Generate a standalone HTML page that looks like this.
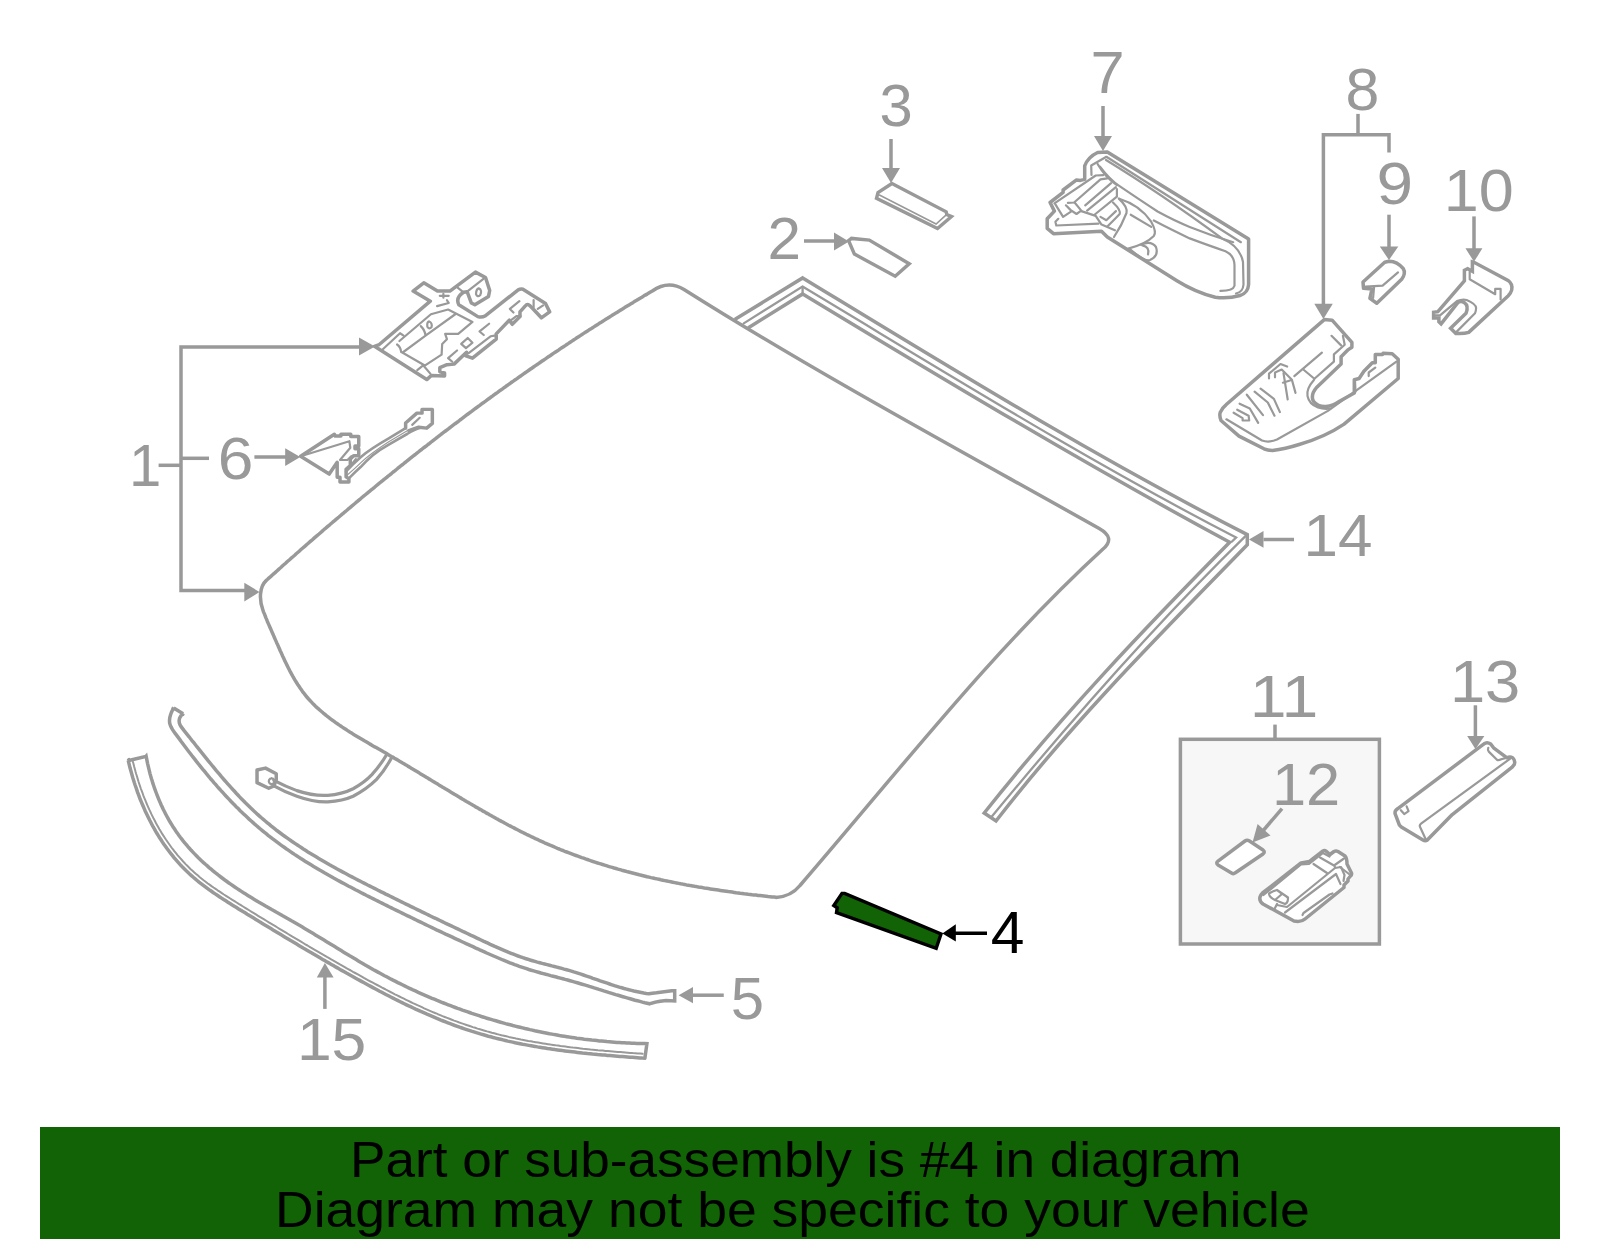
<!DOCTYPE html>
<html><head><meta charset="utf-8"><title>Diagram</title>
<style>
html,body{margin:0;padding:0;background:#fff;width:1600px;height:1249px;overflow:hidden}
svg{position:absolute;left:0;top:0}
svg text{font-family:"Liberation Sans",sans-serif}
.banner{position:absolute;left:40px;top:1127px;width:1520px;height:112px;background:#116306;color:#000;
font-family:"Liberation Sans",sans-serif}
.banner div{position:absolute;white-space:nowrap;font-size:49.1px;line-height:60px;transform-origin:0 0}
</style></head><body>
<svg width="1600" height="1249" viewBox="0 0 1600 1249">
<path d="M684,289.4 C818.5,374.2 961.3,451.0 1099.2,528.5 Q1116,538 1103,549 C991.8,650.9 898.2,771.8 800.0,885.5 Q791,896.5 776,897.5 L776.0,897.3L774.0,897.1L772.0,896.9L770.0,896.7L768.1,896.5L766.1,896.2L764.1,896.0L762.1,895.8L760.1,895.6L758.1,895.4L756.1,895.1L754.1,894.9L752.1,894.7L750.2,894.4L748.2,894.2L746.2,893.9L744.2,893.7L742.2,893.4L740.2,893.2L738.2,892.9L736.2,892.7L734.2,892.4L732.2,892.1L730.2,891.8L728.3,891.6L726.3,891.3L724.3,891.0L722.3,890.7L720.3,890.4L718.3,890.1L716.3,889.8L714.3,889.5L712.3,889.2L710.3,888.9L708.4,888.6L706.4,888.3L704.4,888.0L702.4,887.6L700.4,887.3L698.4,887.0L696.4,886.6L694.5,886.3L692.5,885.9L690.5,885.6L688.5,885.2L686.5,884.9L684.5,884.5L682.6,884.1L680.6,883.8L678.6,883.4L676.6,883.0L674.7,882.6L672.7,882.2L670.7,881.8L668.7,881.4L666.8,881.0L664.8,880.6L662.8,880.2L660.9,879.8L658.9,879.3L656.9,878.9L655.0,878.5L653.0,878.0L651.0,877.6L649.1,877.1L647.1,876.7L645.2,876.2L643.2,875.7L641.3,875.2L639.3,874.8L637.4,874.3L635.4,873.8L633.5,873.3L631.5,872.8L629.6,872.3L627.6,871.8L625.7,871.2L623.8,870.7L621.8,870.2L619.9,869.6L618.0,869.1L616.0,868.5L614.1,868.0L612.2,867.4L610.2,866.9L608.3,866.3L606.4,865.7L604.5,865.1L602.6,864.5L600.7,863.9L598.8,863.3L596.8,862.7L594.9,862.1L593.0,861.5L591.1,860.8L589.2,860.2L587.3,859.5L585.5,858.9L583.6,858.2L581.7,857.6L579.8,856.9L577.9,856.2L576.0,855.5L574.2,854.8L572.3,854.1L570.4,853.4L568.5,852.7L566.7,852.0L564.8,851.3L563.0,850.5L561.1,849.8L559.2,849.0L557.4,848.3L555.5,847.5L553.7,846.7L551.9,845.9L550.0,845.2L548.2,844.4L546.4,843.6L544.5,842.8L542.7,841.9L540.9,841.1L539.1,840.3L537.3,839.4L535.4,838.6L533.6,837.7L531.8,836.9L530.0,836.0L528.2,835.1L526.4,834.3L524.6,833.4L522.8,832.5L521.0,831.6L519.3,830.7L517.5,829.8L515.7,828.9L513.9,827.9L512.1,827.0L510.4,826.1L508.6,825.2L506.8,824.2L505.0,823.3L503.3,822.3L501.5,821.4L499.7,820.4L498.0,819.4L496.2,818.5L494.5,817.5L492.7,816.5L491.0,815.5L489.2,814.6L487.5,813.6L485.7,812.6L484.0,811.6L482.2,810.6L480.5,809.6L478.7,808.6L477.0,807.6L475.2,806.6L473.5,805.6L471.8,804.5L470.0,803.5L468.3,802.5L466.5,801.5L464.8,800.5L463.1,799.4L461.4,798.4L459.6,797.4L457.9,796.3L456.2,795.3L454.4,794.3L452.7,793.2L451.0,792.2L449.2,791.1L447.5,790.1L445.8,789.1L444.1,788.0L442.3,787.0L440.6,785.9L438.9,784.9L437.2,783.8L435.4,782.8L433.7,781.7L432.0,780.7L430.3,779.6L428.5,778.6L426.8,777.6L425.1,776.5L423.4,775.5L421.6,774.4L419.9,773.4L418.2,772.3L416.5,771.3L414.7,770.2L413.0,769.2L411.3,768.2L409.6,767.1L407.8,766.1L406.1,765.1L404.4,764.0L402.6,763.0L400.9,762.0L399.2,761.0L397.5,759.9L395.7,758.9L394.0,757.9L392.2,756.9L390.5,755.9L388.8,754.9L387.0,753.8L385.3,752.8L383.5,751.8L381.8,750.8L380.1,749.8L378.3,748.8L376.6,747.8L374.8,746.9L373.1,745.9L371.4,744.9L369.6,743.9L367.9,742.8L366.2,741.8L364.4,740.8L362.7,739.8L361.0,738.8L359.3,737.8L357.5,736.7L355.8,735.7L354.1,734.7L352.4,733.6L350.7,732.6L349.0,731.5L347.3,730.4L345.7,729.3L344.0,728.2L342.3,727.1L340.7,726.0L339.0,724.9L337.4,723.8L335.7,722.6L334.1,721.4L332.5,720.3L330.9,719.1L329.3,717.8L327.7,716.6L326.1,715.4L324.6,714.1L323.0,712.8L321.5,711.5L320.0,710.2L318.5,708.9L317.0,707.6L315.5,706.2L314.1,704.8L312.7,703.4L311.3,701.9L310.0,700.5L308.6,699.0L307.3,697.5L306.0,696.0L304.8,694.4L303.6,692.8L302.4,691.3L301.2,689.6L300.1,688.0L299.0,686.3L297.9,684.7L296.8,683.0L295.7,681.3L294.7,679.6L293.7,677.8L292.7,676.1L291.7,674.3L290.8,672.6L289.8,670.8L288.9,669.0L288.0,667.2L287.1,665.4L286.2,663.5L285.3,661.7L284.4,659.9L283.6,658.0L282.7,656.2L281.9,654.4L281.1,652.5L280.2,650.7L279.4,648.8L278.6,647.0L277.8,645.1L276.9,643.2L276.1,641.4L275.3,639.6L274.5,637.7L273.7,635.9L272.9,634.0L272.1,632.2L271.3,630.4L270.5,628.5L269.7,626.7L268.9,624.9L268.1,623.1L267.3,621.2L266.6,619.4L265.8,617.6L265.1,615.7L264.4,613.9L263.6,612.1L263.0,610.3 C259.0,600.0 259.4,586.7 266.1,580.6 L267.6,579.3L269.1,577.9L270.6,576.6L272.1,575.2L273.6,573.9L275.1,572.6L276.6,571.2L278.1,569.9L279.6,568.5L281.1,567.2L282.6,565.8L284.1,564.5L285.6,563.2L287.1,561.8L288.6,560.5L290.1,559.2L291.6,557.8L293.2,556.5L294.7,555.2L296.2,553.8L297.7,552.5L299.2,551.2L300.7,549.8L302.2,548.5L303.8,547.2L305.3,545.9L306.8,544.5L308.3,543.2L309.8,541.9L311.3,540.6L312.9,539.3L314.4,537.9L315.9,536.6L317.4,535.3L319.0,534.0L320.5,532.7L322.0,531.4L323.5,530.0L325.1,528.7L326.6,527.4L328.1,526.1L329.7,524.8L331.2,523.5L332.7,522.2L334.3,520.9L335.8,519.6L337.3,518.3L338.9,517.0L340.4,515.7L341.9,514.4L343.5,513.1L345.0,511.8L346.6,510.5L348.1,509.2L349.7,507.9L351.2,506.6L352.7,505.3L354.3,504.0L355.8,502.7L357.4,501.4L358.9,500.1L360.5,498.8L362.0,497.5L363.6,496.2L365.1,495.0L366.7,493.7L368.2,492.4L369.8,491.1L371.3,489.8L372.9,488.6L374.5,487.3L376.0,486.0L377.6,484.7L379.1,483.4L380.7,482.2L382.3,480.9L383.8,479.6L385.4,478.4L387.0,477.1L388.5,475.8L390.1,474.6L391.7,473.3L393.2,472.0L394.8,470.8L396.4,469.5L397.9,468.2L399.5,467.0L401.1,465.7L402.7,464.5L404.2,463.2L405.8,462.0L407.4,460.7L409.0,459.4L410.5,458.2L412.1,456.9L413.7,455.7L415.3,454.5L416.9,453.2L418.4,452.0L420.0,450.7L421.6,449.5L423.2,448.2L424.8,447.0L426.4,445.8L428.0,444.5L429.6,443.3L431.2,442.0L432.7,440.8L434.3,439.6L435.9,438.4L437.5,437.1L439.1,435.9L440.7,434.7L442.3,433.4L443.9,432.2L445.5,431.0L447.1,429.8L448.7,428.6L450.3,427.3L451.9,426.1L453.5,424.9L455.1,423.7L456.8,422.5L458.4,421.3L460.0,420.0L461.6,418.8L463.2,417.6L464.8,416.4L466.4,415.2L468.0,414.0L469.6,412.8L471.3,411.6L472.9,410.4L474.5,409.2L476.1,408.0L477.7,406.8L479.4,405.6L481.0,404.4L482.6,403.2L484.2,402.1L485.9,400.9L487.5,399.7L489.1,398.5L490.7,397.3L492.4,396.1L494.0,394.9L495.6,393.8L497.3,392.6L498.9,391.4L500.5,390.2L502.2,389.1L503.8,387.9L505.5,386.7L507.1,385.5L508.7,384.4L510.4,383.2L512.0,382.0L513.7,380.9L515.3,379.7L517.0,378.6L518.6,377.4L520.3,376.2L521.9,375.1L523.6,373.9L525.2,372.8L526.9,371.6L528.5,370.5L530.2,369.3L531.8,368.2L533.5,367.0L535.1,365.9L536.8,364.8L538.5,363.6L540.1,362.5L541.8,361.3L543.4,360.2L545.1,359.1L546.8,357.9L548.4,356.8L550.1,355.7L551.8,354.5L553.4,353.4L555.1,352.3L556.8,351.2L558.5,350.1L560.1,348.9L561.8,347.8L563.5,346.7L565.2,345.6L566.8,344.5L568.5,343.4L570.2,342.2L571.9,341.1L573.6,340.0L575.3,338.9L576.9,337.8L578.6,336.7L580.3,335.6L582.0,334.5L583.7,333.4L585.4,332.3L587.1,331.2L588.8,330.1L590.5,329.1L592.2,328.0L593.9,326.9L595.6,325.8L597.3,324.7L599.0,323.6L600.7,322.6L602.4,321.5L604.1,320.4L605.8,319.3L607.5,318.3L609.2,317.2L610.9,316.1L612.6,315.0L614.3,314.0L616.0,312.9L617.7,311.9L619.5,310.8L621.2,309.7L622.9,308.7L624.6,307.6L626.3,306.6L628.1,305.5L629.8,304.5L631.5,303.4L633.2,302.4L634.9,301.3L636.7,300.3L638.4,299.2L640.1,298.2L641.9,297.2L643.6,296.1L645.3,295.1L647.1,294.1L648.8,293.0L650.5,292.0L652.3,291.0 Q668,279.8 684,289.4Z" stroke="#999999" stroke-width="3.5" fill="none" stroke-linejoin="round" stroke-linecap="round"/>
<path d="M735.9,318.8 L802.7,277.9 C949.0,366.9 1094.4,456.8 1247.3,534.6 L1247.3,544.8 C1160.8,633.6 1072.1,722.5 996.0,821.0 L984.2,813 C1059.7,717.7 1144.1,628.8 1229.7,542.3 C1085.1,464.3 943.4,379.2 802.7,293.9 L749.2,327.3" stroke="#999999" stroke-width="3.5" fill="none" stroke-linejoin="miter" stroke-linecap="round"/>
<path d="M743.7,323.4 L802.5,286.6 C946.1,372.7 1087.7,461.1 1236.1,537.5 L1232,541.5" stroke="#999999" stroke-width="2.3" fill="none" stroke-linejoin="miter" stroke-linecap="round"/>
<path d="M1245.7,535.9 C1155.1,624.4 1071.6,719.8 991.0,817.5" stroke="#999999" stroke-width="2.3" fill="none" stroke-linejoin="round" stroke-linecap="round"/>
<path d="M802.6,287 L802.6,293.5" stroke="#999999" stroke-width="2.3" fill="none" stroke-linejoin="round" stroke-linecap="round"/>
<path d="M173.7,707.9 L183.1,713.7 L183.2,713.5L180.9,715.8L179.6,718.2L179.1,720.5L179.3,722.8L180.1,724.9L181.3,726.9L182.8,728.9L184.3,730.9L185.9,732.8L187.5,734.8L189.1,736.8L190.6,738.8L192.2,740.8L193.8,742.7L195.4,744.7L196.9,746.7L198.5,748.7L200.1,750.7L201.7,752.7L203.3,754.6L204.9,756.6L206.5,758.6L208.1,760.6L209.7,762.5L211.3,764.5L212.9,766.5L214.5,768.4L216.1,770.4L217.8,772.3L219.4,774.2L221.0,776.2L222.7,778.1L224.3,780.0L226.0,781.9L227.7,783.8L229.4,785.7L231.1,787.6L232.8,789.5L234.5,791.3L236.2,793.2L237.9,795.0L239.6,796.9L241.4,798.7L243.2,800.5L244.9,802.3L246.7,804.1L248.5,805.8L250.3,807.6L252.1,809.3L253.9,811.0L255.8,812.7L257.6,814.4L259.5,816.1L261.4,817.8L263.3,819.4L265.2,821.0L267.1,822.6L269.1,824.2L271.0,825.8L273.0,827.4L274.9,828.9L276.9,830.5L278.9,832.0L280.9,833.5L282.9,835.0L285.0,836.5L287.0,837.9L289.1,839.4L291.1,840.8L293.2,842.2L295.3,843.6L297.4,845.0L299.5,846.4L301.6,847.8L303.7,849.2L305.8,850.5L307.9,851.9L310.1,853.2L312.2,854.5L314.4,855.8L316.5,857.1L318.7,858.4L320.9,859.7L323.1,861.0L325.3,862.3L327.4,863.5L329.6,864.8L331.8,866.0L334.1,867.2L336.3,868.5L338.5,869.7L340.7,870.9L342.9,872.1L345.2,873.3L347.4,874.5L349.6,875.7L351.9,876.9L354.1,878.0L356.4,879.2L358.6,880.4L360.9,881.5L363.1,882.7L365.4,883.8L367.6,885.0L369.9,886.1L372.2,887.3L374.4,888.4L376.7,889.5L378.9,890.7L381.2,891.8L383.5,892.9L385.7,894.1L388.0,895.2L390.2,896.3L392.5,897.4L394.7,898.5L397.0,899.6L399.3,900.8L401.5,901.9L403.8,903.0L406.0,904.1L408.3,905.2L410.6,906.3L412.8,907.4L415.1,908.5L417.3,909.6L419.6,910.7L421.9,911.8L424.1,912.9L426.4,914.0L428.7,915.1L430.9,916.2L433.2,917.3L435.5,918.3L437.7,919.4L440.0,920.5L442.3,921.6L444.5,922.7L446.8,923.8L449.1,924.9L451.3,925.9L453.6,927.0L455.9,928.1L458.2,929.2L460.4,930.3L462.7,931.4L465.0,932.4L467.3,933.5L469.6,934.6L471.8,935.7L474.1,936.7L476.4,937.8L478.7,938.9L481.0,940.0L483.3,941.1L485.6,942.1L487.9,943.2L490.2,944.3L492.5,945.3L494.8,946.4L497.1,947.4L499.4,948.4L501.7,949.4L504.0,950.4L506.4,951.4L508.7,952.3L511.1,953.3L513.4,954.2L515.8,955.1L518.1,956.0L520.5,956.8L522.9,957.7L525.3,958.5L527.7,959.2L530.1,960.0L532.5,960.7L534.9,961.4L537.3,962.1L539.8,962.7L542.2,963.4L544.6,964.0L547.1,964.6L549.5,965.2L551.9,965.9L554.4,966.5L556.8,967.1L559.3,967.8L561.7,968.4L564.1,969.1L566.6,969.7L569.0,970.4L571.4,971.1L573.8,971.9L576.2,972.6L578.6,973.4L581.0,974.2L583.4,975.0L585.8,975.8L588.2,976.6L590.6,977.4L592.9,978.3L595.3,979.1L597.7,979.9L600.1,980.8L602.5,981.6L604.9,982.4L607.3,983.2L609.6,984.0L612.0,984.8L614.4,985.6L616.8,986.3L619.3,987.1L621.7,987.8L624.1,988.5L626.5,989.1L629.0,989.8L631.4,990.4L633.9,991.0L636.3,991.5L638.8,992.0L641.3,992.5L643.8,993.0L646.3,993.4L648.8,993.7 Q652,993.2 656.5,992.8 L671.8,990.8 L674.7,990.8 L674.7,1000.9 L666.1,1000.4 Q653,1002 649.7,1003.8 L649.7,1003.8L647.2,1003.2L644.8,1002.7L642.4,1002.1L639.9,1001.4L637.5,1000.8L635.1,1000.2L632.6,999.5L630.2,998.8L627.8,998.1L625.4,997.4L623.0,996.7L620.6,996.0L618.2,995.3L615.7,994.6L613.3,993.8L610.9,993.1L608.5,992.4L606.1,991.6L603.7,990.9L601.4,990.1L599.0,989.4L596.6,988.6L594.2,987.9L591.8,987.1L589.4,986.4L587.0,985.6L584.5,984.9L582.1,984.2L579.7,983.5L577.3,982.8L574.9,982.1L572.5,981.4L570.1,980.7L567.6,980.0L565.2,979.4L562.8,978.7L560.4,978.1L557.9,977.5L555.5,976.8L553.1,976.2L550.6,975.6L548.2,974.9L545.8,974.3L543.3,973.6L540.9,973.0L538.5,972.3L536.1,971.6L533.7,970.9L531.2,970.2L528.8,969.5L526.5,968.7L524.1,967.9L521.7,967.1L519.3,966.3L517.0,965.4L514.6,964.6L512.3,963.7L509.9,962.8L507.6,961.8L505.2,960.9L502.9,960.0L500.6,959.0L498.3,958.0L496.0,957.0L493.6,956.0L491.3,955.0L489.0,954.0L486.7,953.0L484.4,951.9L482.1,950.9L479.8,949.9L477.6,948.8L475.3,947.8L473.0,946.7L470.7,945.7L468.4,944.6L466.1,943.6L463.8,942.5L461.6,941.5L459.3,940.4L457.0,939.4L454.7,938.3L452.4,937.2L450.2,936.2L447.9,935.1L445.6,934.1L443.3,933.0L441.1,931.9L438.8,930.8L436.5,929.8L434.3,928.7L432.0,927.6L429.7,926.5L427.5,925.5L425.2,924.4L423.0,923.3L420.7,922.2L418.4,921.1L416.2,920.0L413.9,918.9L411.7,917.8L409.4,916.7L407.1,915.6L404.9,914.5L402.6,913.4L400.4,912.3L398.1,911.2L395.9,910.1L393.6,909.0L391.4,907.9L389.1,906.8L386.9,905.6L384.6,904.5L382.4,903.4L380.1,902.3L377.9,901.1L375.6,900.0L373.4,898.9L371.1,897.7L368.9,896.6L366.6,895.5L364.4,894.3L362.1,893.2L359.9,892.0L357.6,890.8L355.4,889.7L353.2,888.5L350.9,887.3L348.7,886.2L346.5,885.0L344.3,883.8L342.0,882.6L339.8,881.4L337.6,880.2L335.4,879.0L333.2,877.8L331.0,876.5L328.8,875.3L326.6,874.0L324.4,872.8L322.3,871.5L320.1,870.3L317.9,869.0L315.8,867.7L313.6,866.4L311.4,865.1L309.3,863.8L307.2,862.5L305.0,861.2L302.9,859.8L300.8,858.5L298.7,857.1L296.6,855.7L294.5,854.4L292.4,853.0L290.4,851.6L288.3,850.1L286.2,848.7L284.2,847.3L282.1,845.8L280.1,844.4L278.1,842.9L276.1,841.4L274.1,839.9L272.1,838.4L270.1,836.8L268.1,835.3L266.2,833.7L264.2,832.2L262.3,830.6L260.4,829.0L258.5,827.4L256.6,825.7L254.7,824.1L252.8,822.4L250.9,820.7L249.1,819.1L247.2,817.3L245.4,815.6L243.6,813.9L241.8,812.2L239.9,810.4L238.2,808.6L236.4,806.9L234.6,805.1L232.8,803.3L231.1,801.5L229.4,799.6L227.6,797.8L225.9,796.0L224.2,794.1L222.5,792.2L220.8,790.4L219.1,788.5L217.4,786.6L215.8,784.7L214.1,782.8L212.5,780.9L210.8,779.0L209.2,777.0L207.6,775.1L206.0,773.2L204.4,771.2L202.8,769.3L201.2,767.3L199.6,765.3L198.0,763.4L196.4,761.4L194.9,759.4L193.3,757.4L191.8,755.5L190.3,753.5L188.7,751.5L187.2,749.5L185.7,747.5L184.2,745.5L182.7,743.5L181.2,741.5L179.7,739.4L178.2,737.4L176.7,735.4L175.2,733.4L173.8,731.4L172.4,729.4L171.2,727.2L170.2,725.0L169.6,722.7L169.5,720.2L169.8,717.6L170.5,715.0L171.4,712.4L172.5,710.0L173.8,707.8Z" stroke="#999999" stroke-width="3.5" fill="none" stroke-linejoin="miter" stroke-linecap="round"/>
<path d="M127.8,760.7 L145.8,756.4 L146.1,756.1L146.6,758.6L147.1,761.1L147.6,763.6L148.2,766.1L148.8,768.6L149.4,771.1L150.0,773.6L150.7,776.1L151.4,778.5L152.2,781.0L152.9,783.4L153.7,785.8L154.5,788.2L155.4,790.6L156.3,793.0L157.2,795.4L158.1,797.7L159.1,800.1L160.1,802.4L161.1,804.7L162.2,807.0L163.2,809.3L164.4,811.5L165.5,813.7L166.7,816.0L167.9,818.2L169.1,820.3L170.4,822.5L171.7,824.6L173.0,826.7L174.4,828.8L175.8,830.9L177.2,832.9L178.6,835.0L180.1,837.0L181.6,838.9L183.1,840.9L184.7,842.8L186.3,844.7L187.9,846.6L189.6,848.5L191.2,850.3L192.9,852.1L194.6,853.9L196.4,855.7L198.1,857.5L199.9,859.2L201.7,860.9L203.5,862.6L205.4,864.3L207.3,865.9L209.1,867.6L211.1,869.2L213.0,870.8L214.9,872.4L216.9,873.9L218.8,875.5L220.8,877.0L222.8,878.5L224.8,880.0L226.9,881.5L228.9,883.0L231.0,884.4L233.0,885.8L235.1,887.2L237.2,888.6L239.3,890.0L241.4,891.4L243.5,892.8L245.7,894.1L247.8,895.4L250.0,896.8L252.1,898.1L254.3,899.4L256.4,900.7L258.6,902.0L260.8,903.2L263.0,904.5L265.1,905.8L267.3,907.0L269.5,908.3L271.7,909.6L273.9,910.8L276.1,912.1L278.3,913.3L280.5,914.5L282.7,915.8L284.9,917.0L287.1,918.3L289.3,919.5L291.5,920.8L293.7,922.0L295.9,923.3L298.1,924.6L300.3,925.8L302.4,927.1L304.6,928.4L306.8,929.7L308.9,931.0L311.1,932.3L313.3,933.6L315.4,934.9L317.6,936.2L319.7,937.5L321.9,938.8L324.0,940.1L326.2,941.4L328.3,942.7L330.4,944.0L332.6,945.3L334.7,946.6L336.9,947.9L339.0,949.2L341.2,950.6L343.3,951.9L345.4,953.2L347.6,954.5L349.7,955.8L351.9,957.0L354.0,958.3L356.2,959.6L358.3,960.9L360.5,962.2L362.7,963.4L364.8,964.7L367.0,965.9L369.2,967.2L371.3,968.4L373.5,969.7L375.7,970.9L377.9,972.1L380.1,973.3L382.3,974.5L384.5,975.7L386.7,976.8L388.9,978.0L391.1,979.2L393.4,980.3L395.6,981.4L397.8,982.6L400.1,983.7L402.3,984.8L404.6,985.9L406.8,987.0L409.1,988.1L411.4,989.1L413.6,990.2L415.9,991.2L418.2,992.3L420.5,993.3L422.8,994.3L425.1,995.3L427.4,996.3L429.7,997.3L432.0,998.3L434.3,999.2L436.6,1000.2L438.9,1001.1L441.2,1002.1L443.6,1003.0L445.9,1003.9L448.2,1004.8L450.6,1005.7L452.9,1006.6L455.3,1007.5L457.6,1008.4L460.0,1009.2L462.4,1010.1L464.7,1010.9L467.1,1011.7L469.5,1012.5L471.8,1013.4L474.2,1014.1L476.6,1014.9L479.0,1015.7L481.4,1016.5L483.8,1017.2L486.2,1018.0L488.6,1018.7L491.0,1019.4L493.4,1020.1L495.8,1020.8L498.2,1021.5L500.6,1022.2L503.0,1022.9L505.5,1023.6L507.9,1024.2L510.3,1024.8L512.8,1025.5L515.2,1026.1L517.6,1026.7L520.1,1027.3L522.5,1027.9L525.0,1028.5L527.4,1029.0L529.9,1029.6L532.3,1030.1L534.8,1030.7L537.2,1031.2L539.7,1031.7L542.1,1032.2L544.6,1032.7L547.1,1033.2L549.5,1033.7L552.0,1034.1L554.5,1034.6L556.9,1035.0L559.4,1035.5L561.9,1035.9L564.4,1036.3L566.9,1036.7L569.3,1037.1L571.8,1037.4L574.3,1037.8L576.8,1038.2L579.3,1038.5L581.8,1038.8L584.3,1039.2L586.8,1039.5L589.3,1039.8L591.8,1040.1L594.3,1040.3L596.8,1040.6L599.3,1040.9L601.8,1041.1L604.3,1041.3L606.8,1041.6L609.3,1041.8L611.8,1042.0L614.3,1042.2L616.8,1042.4L619.3,1042.5L621.8,1042.7L624.3,1042.8L626.8,1043.0L629.3,1043.1L631.9,1043.2L634.4,1043.3L636.9,1043.4L639.4,1043.5L641.9,1043.6L644.4,1043.6L646.9,1043.7 L644.9,1058.1 L644.8,1058.2L642.3,1058.1L639.9,1057.9L637.4,1057.7L634.9,1057.5L632.4,1057.3L629.9,1057.2L627.5,1057.0L625.0,1056.8L622.5,1056.6L620.0,1056.4L617.5,1056.2L615.0,1056.0L612.5,1055.8L610.0,1055.6L607.5,1055.4L605.0,1055.1L602.5,1054.9L600.0,1054.7L597.5,1054.5L595.0,1054.2L592.5,1054.0L590.0,1053.7L587.4,1053.5L584.9,1053.2L582.4,1053.0L579.9,1052.7L577.4,1052.4L574.9,1052.1L572.4,1051.8L569.9,1051.5L567.4,1051.2L564.9,1050.9L562.4,1050.6L559.9,1050.2L557.4,1049.9L554.9,1049.6L552.4,1049.2L549.9,1048.8L547.4,1048.5L544.9,1048.1L542.4,1047.7L539.9,1047.3L537.4,1046.9L535.0,1046.4L532.5,1046.0L530.0,1045.6L527.5,1045.1L525.0,1044.6L522.6,1044.2L520.1,1043.7L517.6,1043.2L515.2,1042.7L512.7,1042.1L510.2,1041.6L507.8,1041.1L505.3,1040.5L502.9,1039.9L500.5,1039.3L498.0,1038.7L495.6,1038.1L493.2,1037.5L490.7,1036.8L488.3,1036.2L485.9,1035.5L483.5,1034.8L481.1,1034.1L478.7,1033.4L476.3,1032.7L473.9,1031.9L471.5,1031.2L469.1,1030.4L466.7,1029.6L464.4,1028.8L462.0,1028.0L459.6,1027.2L457.3,1026.3L454.9,1025.5L452.6,1024.6L450.2,1023.7L447.9,1022.8L445.6,1021.9L443.2,1021.0L440.9,1020.1L438.6,1019.1L436.3,1018.2L434.0,1017.2L431.7,1016.2L429.4,1015.2L427.0,1014.2L424.8,1013.2L422.5,1012.2L420.2,1011.2L417.9,1010.1L415.6,1009.1L413.3,1008.0L411.1,1006.9L408.8,1005.9L406.5,1004.8L404.3,1003.7L402.0,1002.6L399.7,1001.5L397.5,1000.4L395.2,999.2L393.0,998.1L390.8,997.0L388.5,995.8L386.3,994.7L384.0,993.5L381.8,992.3L379.6,991.2L377.4,990.0L375.1,988.8L372.9,987.6L370.7,986.4L368.5,985.2L366.3,984.0L364.1,982.8L361.9,981.6L359.7,980.4L357.5,979.2L355.3,978.0L353.1,976.7L350.9,975.5L348.7,974.3L346.5,973.1L344.3,971.8L342.1,970.6L340.0,969.4L337.8,968.1L335.6,966.9L333.4,965.6L331.3,964.4L329.1,963.1L326.9,961.9L324.7,960.6L322.6,959.4L320.4,958.1L318.2,956.8L316.1,955.6L313.9,954.3L311.8,953.0L309.6,951.8L307.4,950.5L305.3,949.2L303.1,948.0L301.0,946.7L298.8,945.4L296.7,944.1L294.5,942.8L292.4,941.5L290.2,940.3L288.1,939.0L285.9,937.7L283.8,936.4L281.6,935.1L279.5,933.8L277.3,932.5L275.2,931.2L273.0,929.9L270.9,928.6L268.7,927.3L266.6,926.0L264.4,924.7L262.3,923.4L260.1,922.1L258.0,920.7L255.8,919.4L253.7,918.1L251.5,916.8L249.4,915.5L247.2,914.2L245.1,912.8L242.9,911.5L240.8,910.2L238.6,908.9L236.5,907.5L234.3,906.2L232.2,904.9L230.0,903.5L227.9,902.2L225.8,900.8L223.6,899.5L221.5,898.1L219.4,896.7L217.3,895.3L215.2,893.9L213.1,892.5L211.1,891.0L209.0,889.6L207.0,888.1L205.0,886.6L203.0,885.1L201.0,883.6L199.0,882.1L197.1,880.5L195.2,878.9L193.3,877.3L191.4,875.6L189.6,874.0L187.8,872.3L186.0,870.6L184.2,868.8L182.5,867.1L180.8,865.3L179.1,863.4L177.5,861.6L175.8,859.7L174.2,857.8L172.7,855.9L171.1,854.0L169.6,852.0L168.1,850.0L166.6,848.0L165.2,846.0L163.7,844.0L162.3,841.9L161.0,839.8L159.6,837.7L158.3,835.6L157.0,833.5L155.7,831.3L154.5,829.1L153.2,827.0L152.0,824.7L150.9,822.5L149.7,820.3L148.6,818.0L147.5,815.8L146.4,813.5L145.3,811.2L144.3,808.9L143.3,806.5L142.3,804.2L141.3,801.8L140.3,799.5L139.4,797.1L138.5,794.7L137.6,792.3L136.8,789.9L136.0,787.5L135.1,785.0L134.3,782.6L133.6,780.2L132.8,777.7L132.1,775.2L131.4,772.8L130.7,770.3L130.0,767.8L129.4,765.3L128.8,762.8L128.2,760.4Z" stroke="#999999" stroke-width="3.5" fill="none" stroke-linejoin="miter" stroke-linecap="round"/>
<path d="M642.6,1053.8L640.2,1053.6L637.7,1053.4L635.2,1053.2L632.7,1053.1L630.3,1052.9L627.8,1052.7L625.3,1052.5L622.8,1052.3L620.3,1052.1L617.8,1051.9L615.3,1051.7L612.8,1051.5L610.3,1051.3L607.9,1051.1L605.4,1050.9L602.9,1050.6L600.4,1050.4L597.9,1050.2L595.4,1049.9L592.9,1049.7L590.4,1049.5L587.9,1049.2L585.4,1048.9L582.9,1048.7L580.4,1048.4L577.9,1048.1L575.4,1047.8L572.9,1047.6L570.4,1047.3L567.9,1046.9L565.4,1046.6L562.9,1046.3L560.5,1046.0L558.0,1045.6L555.5,1045.3L553.0,1044.9L550.5,1044.6L548.0,1044.2L545.6,1043.8L543.1,1043.4L540.6,1043.0L538.1,1042.6L535.7,1042.2L533.2,1041.8L530.8,1041.3L528.3,1040.9L525.8,1040.4L523.4,1039.9L520.9,1039.5L518.5,1039.0L516.0,1038.5L513.6,1037.9L511.2,1037.4L508.7,1036.9L506.3,1036.3L503.9,1035.7L501.5,1035.2L499.1,1034.6L496.7,1034.0L494.2,1033.3L491.8,1032.7L489.4,1032.0L487.1,1031.4L484.7,1030.7L482.3,1030.0L479.9,1029.3L477.5,1028.6L475.2,1027.8L472.8,1027.1L470.5,1026.3L468.1,1025.5L465.8,1024.7L463.4,1023.9L461.1,1023.1L458.7,1022.3L456.4,1021.4L454.1,1020.6L451.8,1019.7L449.5,1018.8L447.1,1017.9L444.8,1017.0L442.5,1016.1L440.2,1015.1L437.9,1014.2L435.6,1013.2L433.3,1012.3L431.1,1011.3L428.8,1010.3L426.5,1009.3L424.2,1008.3L421.9,1007.2L419.7,1006.2L417.4,1005.2L415.2,1004.1L412.9,1003.1L410.6,1002.0L408.4,1000.9L406.1,999.8L403.9,998.7L401.6,997.6L399.4,996.5L397.2,995.4L394.9,994.3L392.7,993.1L390.5,992.0L388.3,990.8L386.0,989.7L383.8,988.5L381.6,987.4L379.4,986.2L377.2,985.0L375.0,983.8L372.8,982.6L370.5,981.5L368.3,980.3L366.1,979.1L363.9,977.9L361.8,976.6L359.6,975.4L357.4,974.2L355.2,973.0L353.0,971.8L350.8,970.5L348.6,969.3L346.4,968.1L344.3,966.8L342.1,965.6L339.9,964.4L337.7,963.1L335.6,961.9L333.4,960.6L331.2,959.4L329.1,958.1L326.9,956.9L324.7,955.6L322.6,954.4L320.4,953.1L318.3,951.9L316.1,950.6L313.9,949.3L311.8,948.1L309.6,946.8L307.5,945.5L305.3,944.3L303.2,943.0L301.0,941.7L298.9,940.4L296.7,939.1L294.6,937.9L292.4,936.6L290.3,935.3L288.1,934.0L286.0,932.7L283.8,931.4L281.7,930.1L279.5,928.8L277.4,927.5L275.3,926.2L273.1,924.9L271.0,923.6L268.8,922.3L266.7,921.0L264.5,919.7L262.4,918.4L260.2,917.1L258.1,915.8L255.9,914.4L253.8,913.1L251.6,911.8L249.5,910.5L247.3,909.2L245.2,907.8L243.0,906.5L240.9,905.2L238.7,903.9L236.6,902.5L234.5,901.2L232.3,899.9L230.2,898.5L228.1,897.2L226.0,895.8L223.9,894.5L221.8,893.1L219.7,891.7L217.6,890.3L215.6,888.9L213.5,887.5L211.5,886.1L209.5,884.6L207.5,883.2L205.6,881.7L203.6,880.2L201.7,878.7L199.8,877.2L198.0,875.6L196.1,874.0L194.3,872.4L192.5,870.8L190.7,869.2L189.0,867.5L187.3,865.8L185.6,864.1L183.9,862.3L182.3,860.5L180.7,858.7L179.1,856.9L177.5,855.1L176.0,853.2L174.5,851.3L173.0,849.4L171.5,847.5L170.1,845.5L168.7,843.5L167.3,841.5L165.9,839.5L164.6,837.5L163.2,835.4L161.9,833.4L160.7,831.3L159.4,829.2L158.2,827.0L157.0,824.9L155.8,822.7L154.7,820.5L153.5,818.3L152.4,816.1L151.3,813.9L150.3,811.6L149.2,809.4L148.2,807.1L147.2,804.8L146.2,802.5L145.3,800.2L144.3,797.9L143.4,795.6L142.6,793.2L141.7,790.8L140.8,788.5L140.0,786.1L139.2,783.7L138.4,781.3L137.7,778.9L137.0,776.5L136.2,774.0L135.5,771.6L134.9,769.2L134.2,766.7L133.6,764.3L132.9,761.8" stroke="#999999" stroke-width="2" fill="none" stroke-linejoin="round" stroke-linecap="round"/>
<path d="M842.0,893.4 L844.7,893.4 L941.0,934.0 L936.2,948.4 L836.5,912.6 L837.2,907.8 L833.8,905.5Z" stroke="#000" stroke-width="3.4" fill="#116306" stroke-linejoin="miter" stroke-linecap="round"/>
<rect x="1180.4" y="739.3" width="199" height="204.7" fill="#f7f7f7" stroke="#999999" stroke-width="3.5"/>
<path d="M1275,724.6 L1275,739" stroke="#999999" stroke-width="3.5" fill="none" stroke-linejoin="round" stroke-linecap="butt"/>
<path d="M360,347 L181,347 L181,590.6 L246,590.6" stroke="#999999" stroke-width="3.5" fill="none" stroke-linejoin="miter" stroke-linecap="butt"/>
<path d="M158.6,465.3 L181,465.3" stroke="#999999" stroke-width="3.5" fill="none" stroke-linejoin="round" stroke-linecap="butt"/>
<path d="M181,458.3 L209,458.3" stroke="#999999" stroke-width="3.5" fill="none" stroke-linejoin="round" stroke-linecap="butt"/>
<text transform="translate(128.9,485.6) scale(0.974,1)" font-size="59.7" fill="#999999">1</text>
<text transform="translate(217.7,478.5) scale(1.074,1)" font-size="59.7" fill="#999999">6</text>
<text transform="translate(1090.6,92.5) scale(1.027,1)" font-size="59.7" fill="#999999">7</text>
<text transform="translate(879.5,125.7) scale(1.001,1)" font-size="59.7" fill="#999999">3</text>
<text transform="translate(767.5,259.4) scale(1.009,1)" font-size="59.7" fill="#999999">2</text>
<text transform="translate(1345.5,110.0) scale(1.019,1)" font-size="59.7" fill="#999999">8</text>
<text transform="translate(1376.5,204.1) scale(1.100,1)" font-size="59.7" fill="#999999">9</text>
<text transform="translate(1443.7,211.3) scale(1.054,1)" font-size="59.7" fill="#999999">10</text>
<text transform="translate(1249.7,716.9) scale(1.110,1)" font-size="59.7" fill="#999999">11</text>
<text transform="translate(1449.9,701.5) scale(1.061,1)" font-size="59.7" fill="#999999">13</text>
<text transform="translate(1271.9,805.3) scale(1.029,1)" font-size="59.7" fill="#999999">12</text>
<text transform="translate(1303.5,556.0) scale(1.039,1)" font-size="59.7" fill="#999999">14</text>
<text transform="translate(296.9,1060.0) scale(1.046,1)" font-size="59.7" fill="#999999">15</text>
<text transform="translate(730.7,1019.0) scale(1.003,1)" font-size="59.7" fill="#999999">5</text>
<text transform="translate(990.7,952.5) scale(1.015,1)" font-size="59.7" fill="#000">4</text>
<path d="M375,346.5 L359,337.5 L359,355.5Z" fill="#999999"/>
<path d="M259.5,592 L244.3,582.7 L244.3,601.4Z" fill="#999999"/>
<path d="M254.4,457 L290,457" stroke="#999999" stroke-width="3.5" fill="none"/>
<path d="M300.3,457 L285.2,448.2 L285.2,466Z" fill="#999999"/>
<path d="M804,241 L835,241" stroke="#999999" stroke-width="3.5" fill="none"/>
<path d="M849,241.5 L834,232.5 L834,250.5Z" fill="#999999"/>
<path d="M891,139 L891,170" stroke="#999999" stroke-width="3.5" fill="none"/>
<path d="M891,183 L882,168 L900,168Z" fill="#999999"/>
<path d="M1103,106 L1103,138" stroke="#999999" stroke-width="3.5" fill="none"/>
<path d="M1103,151 L1094,136 L1112,136Z" fill="#999999"/>
<path d="M1358,113.9 L1358,134.7" stroke="#999999" stroke-width="3.5" fill="none"/>
<path d="M1389,152.5 L1389,134.7 L1323.4,134.7 L1323.4,305" stroke="#999999" stroke-width="3.5" fill="none" stroke-linejoin="miter"/>
<path d="M1323.4,318.9 L1314.3,303.8 L1332.8,303.8Z" fill="#999999"/>
<path d="M1389,214.7 L1389,248" stroke="#999999" stroke-width="3.5" fill="none"/>
<path d="M1389,260 L1379.8,246.6 L1398.3,246.6Z" fill="#999999"/>
<path d="M1474,216.4 L1474,250" stroke="#999999" stroke-width="3.5" fill="none"/>
<path d="M1474,261.8 L1465.5,248.3 L1482.4,248.3Z" fill="#999999"/>
<path d="M1475.4,705.3 L1475.4,738" stroke="#999999" stroke-width="3.5" fill="none"/>
<path d="M1475.4,749 L1467.2,736 L1484.4,736Z" fill="#999999"/>
<path d="M1282,808.6 L1262,832" stroke="#999999" stroke-width="3.5" fill="none"/>
<path d="M1252.5,842.4 L1257.6,824 L1270.5,835.5Z" fill="#999999"/>
<path d="M1263.5,539.5 L1294,539.5" stroke="#999999" stroke-width="3.5" fill="none"/>
<path d="M1249,539.5 L1263.5,531 L1263.5,547.8Z" fill="#999999"/>
<path d="M693,995.2 L723.75,995.2" stroke="#999999" stroke-width="3.5" fill="none"/>
<path d="M678.6,995.2 L693,987 L693,1003.3Z" fill="#999999"/>
<path d="M324.9,977 L324.9,1008.9" stroke="#999999" stroke-width="3.5" fill="none"/>
<path d="M324.9,963.1 L316.8,977.5 L333.6,977.5Z" fill="#999999"/>
<path d="M955,933.25 L987,933.25" stroke="#000" stroke-width="3.5" fill="none"/>
<path d="M942.4,933.5 L955.8,924.3 L955.8,941.5Z" fill="#000"/>
<path d="M848.6,240.6 L851.5,238.4 L869.3,240.1 L909.2,263.7 L895.2,276.2 L854.4,254.1Z" stroke="#999999" stroke-width="3.5" fill="none" stroke-linejoin="miter" stroke-linecap="round"/>
<path d="M891.9,183.5 L946.2,211.8 L946.8,214.6 L951.5,216.6 L937.5,228.6 L876.5,198.3 L878.0,192.6Z" stroke="#999999" stroke-width="3.4" fill="none" stroke-linejoin="miter" stroke-linecap="round"/>
<path d="M879.4,195.0 L936.1,224.0 L945.9,215.2" stroke="#999999" stroke-width="1.6" fill="none" stroke-linejoin="miter" stroke-linecap="round"/>
<path d="M1107.3,152 L1248.6,239 L1248.6,284.5 Q1248,293 1240,295.5 Q1228,299 1215.3,297.3 Q1195,292 1176.9,280.7 L1132,252.5 L1107.3,237 L1101.5,231.3 L1053.5,233.7 L1047.2,228.4 L1047.2,218.8 L1054.4,211.1 L1050.1,202.5 L1063.1,192.4 L1063.1,190 L1076.5,179.9 L1080.4,180.4 L1084.7,179.4 L1084.7,165.9 Q1088,157 1097.6,152.5 Z" stroke="#999999" stroke-width="3.5" fill="none" stroke-linejoin="round" stroke-linecap="round"/>
<path d="M1091.5,175 L1091.2,165.5 L1106.4,156.8 L1240.9,242.2" stroke="#999999" stroke-width="2.2" fill="none" stroke-linejoin="round" stroke-linecap="round"/>
<path d="M1106,160 Q1160,193 1222,238.4 Q1240,246 1243,262 L1243.5,284.5 Q1243,292 1236,293.5" stroke="#999999" stroke-width="2.2" fill="none" stroke-linejoin="round" stroke-linecap="round"/>
<path d="M1100,166.7 Q1110,180 1119.2,185.9 Q1140,200 1157.6,211.5 Q1175,221 1189.7,226.9 Q1210,235 1233.2,242.2" stroke="#999999" stroke-width="2.2" fill="none" stroke-linejoin="round" stroke-linecap="round"/>
<path d="M1153.8,220.5 Q1170,229 1189.7,238.4 Q1210,246 1225.5,251.2 Q1234,255 1234.5,265 L1234.5,285.8 Q1233,291 1220.4,290.9" stroke="#999999" stroke-width="2.2" fill="none" stroke-linejoin="round" stroke-linecap="round"/>
<path d="M1119.2,198.7 Q1140,205 1151.2,221.7 Q1157,232 1153.8,236 Q1146,244 1128.2,248.6" stroke="#999999" stroke-width="2.2" fill="none" stroke-linejoin="round" stroke-linecap="round"/>
<path d="M1130.7,214.7 L1151.2,226.9" stroke="#999999" stroke-width="2.2" fill="none" stroke-linejoin="round" stroke-linecap="round"/>
<path d="M1141,244.8 Q1151,240 1156,247 Q1159,256 1150,260 Q1145,262 1130.7,249.9" stroke="#999999" stroke-width="2.2" fill="none" stroke-linejoin="round" stroke-linecap="round"/>
<path d="M1142.3,245.4 Q1150,247 1148,254.4" stroke="#999999" stroke-width="2.2" fill="none" stroke-linejoin="round" stroke-linecap="round"/>
<path d="M1118.8,198.6 Q1128,207 1126.5,213 Q1122,225 1114,237" stroke="#999999" stroke-width="2.2" fill="none" stroke-linejoin="round" stroke-linecap="round"/>
<path d="M1113,202.5 Q1121,210 1119.7,214 Q1112,222 1107.3,226.5" stroke="#999999" stroke-width="2.2" fill="none" stroke-linejoin="round" stroke-linecap="round"/>
<path d="M1100.5,216.9 L1106.3,220.2 L1115.9,211.1" stroke="#999999" stroke-width="2.2" fill="none" stroke-linejoin="round" stroke-linecap="round"/>
<path d="M1081.3,211.1 L1095.7,215.9 L1101.5,224.6 L1114.9,230.3" stroke="#999999" stroke-width="2.2" fill="none" stroke-linejoin="round" stroke-linecap="round"/>
<path d="M1056.3,225.5 L1055.4,221.7 L1058.3,218.8 M1056.3,225.5 L1098.6,223.6" stroke="#999999" stroke-width="2.2" fill="none" stroke-linejoin="round" stroke-linecap="round"/>
<path d="M1054.4,203.4 L1095.7,175.5 L1103.4,175.1" stroke="#999999" stroke-width="2.2" fill="none" stroke-linejoin="round" stroke-linecap="round"/>
<path d="M1055.4,204.4 L1063.1,216.9 L1071.7,211.1" stroke="#999999" stroke-width="2.2" fill="none" stroke-linejoin="round" stroke-linecap="round"/>
<path d="M1067.9,202.9 L1074.1,202.5 L1100.5,179.4 L1107.3,178.4" stroke="#999999" stroke-width="2.2" fill="none" stroke-linejoin="round" stroke-linecap="round"/>
<path d="M1074.6,202.5 L1081.3,210.6 L1076.5,214 L1070.7,210.1 L1065.9,205.3" stroke="#999999" stroke-width="2.2" fill="none" stroke-linejoin="round" stroke-linecap="round"/>
<path d="M1085.2,205.3 L1111.1,183.2" stroke="#999999" stroke-width="2.2" fill="none" stroke-linejoin="round" stroke-linecap="round"/>
<path d="M1087.1,210.6 L1115.9,187.1" stroke="#999999" stroke-width="2.2" fill="none" stroke-linejoin="round" stroke-linecap="round"/>
<path d="M1094.8,214.5 L1116.9,196.7 L1116.9,189" stroke="#999999" stroke-width="2.2" fill="none" stroke-linejoin="round" stroke-linecap="round"/>
<path d="M1097.6,164 Q1105,177 1116.9,185.2" stroke="#999999" stroke-width="2.2" fill="none" stroke-linejoin="round" stroke-linecap="round"/>
<path d="M1324.3,319.6 L1332.1,320.2 L1351.9,342.4 L1351.9,347.2 L1348.3,349.6 L1341.1,356.8 L1341.1,364 L1317.1,386.9 Q1310,395 1313.5,401.3 Q1318,407 1326,406.5 Q1333,406 1340,401 L1354.3,392.9 L1354.3,379.7 L1359.1,378.5 L1363.9,371.3 L1372.3,362.8 L1375.3,362.8 L1375.3,354.4 L1382.5,354.4 L1383.1,353.2 L1392.2,353.8 L1398.2,359.2 L1398.2,378.5 L1344.1,424.1 Q1325,437 1299.1,444.5 Q1285,449 1272.6,450.5 Q1268,450.5 1264,448.8 L1239,436.1 L1221,420.5 Q1219,415 1220.4,412.1 Q1222,408 1226,404.8 Z" stroke="#999999" stroke-width="3.5" fill="none" stroke-linejoin="round" stroke-linecap="round"/>
<path d="M1226.4,419.3 L1262,440.5 Q1269,443 1277,439.5 L1327.9,410.9 L1396.4,361.6" stroke="#999999" stroke-width="2.2" fill="none" stroke-linejoin="round" stroke-linecap="round"/>
<path d="M1354.9,379.7 L1355.5,391.7" stroke="#999999" stroke-width="2.2" fill="none" stroke-linejoin="round" stroke-linecap="round"/>
<path d="M1314.1,379.7 Q1306,389 1307.5,396 Q1309,404 1318,407.5 Q1324,409.5 1330.3,408.5" stroke="#999999" stroke-width="2.2" fill="none" stroke-linejoin="round" stroke-linecap="round"/>
<path d="M1314.7,378.5 L1333.9,361.6 L1333.9,354.4 L1344.7,344.8 L1342.9,335.8" stroke="#999999" stroke-width="2.2" fill="none" stroke-linejoin="round" stroke-linecap="round"/>
<path d="M1331.5,335.8 L1341.1,345.4" stroke="#999999" stroke-width="2.2" fill="none" stroke-linejoin="round" stroke-linecap="round"/>
<path d="M1294.3,376.1 L1321.9,352.6" stroke="#999999" stroke-width="2.2" fill="none" stroke-linejoin="round" stroke-linecap="round"/>
<path d="M1303.9,370 L1314.1,378.5" stroke="#999999" stroke-width="2.2" fill="none" stroke-linejoin="round" stroke-linecap="round"/>
<path d="M1269,378.5 L1269,373.7 L1280.5,364 L1287.1,366.5" stroke="#999999" stroke-width="2.2" fill="none" stroke-linejoin="round" stroke-linecap="round"/>
<path d="M1275,377.3 L1275,372.5 L1281.7,369.5 L1291.9,379.7 L1295.5,392.9" stroke="#999999" stroke-width="2.2" fill="none" stroke-linejoin="round" stroke-linecap="round"/>
<path d="M1283.5,373.1 L1287.7,399.5" stroke="#999999" stroke-width="2.2" fill="none" stroke-linejoin="round" stroke-linecap="round"/>
<path d="M1282.9,382.7 L1290.7,380.3" stroke="#999999" stroke-width="2.2" fill="none" stroke-linejoin="round" stroke-linecap="round"/>
<path d="M1260.6,388.7 L1273.9,398.9 L1279.9,412.1" stroke="#999999" stroke-width="2.2" fill="none" stroke-linejoin="round" stroke-linecap="round"/>
<path d="M1254.6,391.7 L1267.8,402.5 L1274.5,415.7" stroke="#999999" stroke-width="2.2" fill="none" stroke-linejoin="round" stroke-linecap="round"/>
<path d="M1246.8,394.7 L1263,415.1" stroke="#999999" stroke-width="2.2" fill="none" stroke-linejoin="round" stroke-linecap="round"/>
<path d="M1239.6,403.7 L1249.8,408.5 L1258.2,422.9" stroke="#999999" stroke-width="2.2" fill="none" stroke-linejoin="round" stroke-linecap="round"/>
<path d="M1233.6,412.7 L1242.6,418.1 L1242.6,420.5 L1249.2,420.5 L1248.6,415.7 L1237.2,409.7" stroke="#999999" stroke-width="2.2" fill="none" stroke-linejoin="round" stroke-linecap="round"/>
<path d="M1368.7,376.1 L1368.7,372.5 L1375.3,367.6" stroke="#999999" stroke-width="2.2" fill="none" stroke-linejoin="round" stroke-linecap="round"/>
<path d="M1389,261.2 Q1397,261 1403.3,268.7 Q1406,273 1401.7,279.3 L1376.8,303.2 L1369.9,298.4 L1372,288.9 L1363.5,288.3 L1363,282 L1384.7,262.3 Z" stroke="#999999" stroke-width="3.5" fill="none" stroke-linejoin="round" stroke-linecap="round"/>
<path d="M1365.6,286.7 L1382.6,285.7 L1398,272.4" stroke="#999999" stroke-width="2.2" fill="none" stroke-linejoin="round" stroke-linecap="round"/>
<path d="M1374.1,286.7 L1373.1,297.9" stroke="#999999" stroke-width="2.2" fill="none" stroke-linejoin="round" stroke-linecap="round"/>
<path d="M1472.4,261.8 L1474,262.3 L1508,280.4 Q1513,284 1511.7,290 Q1511,293 1508,296 L1468.7,332.4 Q1464,334 1455.9,333.5 L1450.6,328.2 L1466,313.3 Q1469,306 1464.4,302.7 Q1460,300 1457,303.7 L1441.1,323.9 L1438.9,321.8 L1438.9,318.1 L1433.6,318.1 L1433.6,312.2 L1437.9,311.7 L1464.4,280.9 L1464.4,270.3 L1467.6,268.7 L1472.4,271.3 Z" stroke="#999999" stroke-width="3.5" fill="none" stroke-linejoin="miter" stroke-linecap="round"/>
<path d="M1469.7,271.9 L1469.7,279.3 L1495.2,294.2 L1495.2,288.9 L1500.6,288.9 L1500.6,299.5" stroke="#999999" stroke-width="2.2" fill="none" stroke-linejoin="round" stroke-linecap="round"/>
<path d="M1435.7,315.4 L1440,315.4 L1457,301.1 Q1462,299 1466.6,300 Q1476,304 1476.1,308 Q1476,311 1475,313.3 L1457,331.4" stroke="#999999" stroke-width="2.2" fill="none" stroke-linejoin="round" stroke-linecap="round"/>
<g transform="translate(365,262) scale(0.11875)" fill="none" stroke="#999999" stroke-linejoin="round" stroke-linecap="round"><path d="M80,710 L120,695 L550,330 L405,245 L495,175 L610,245 L715,245 L930,85 L1015,130 L1050,240 L1040,290 L925,360 L895,345 L860,250 L830,255 Q760,300 790,360 L950,460 Q985,470 1010,455 L1290,235 Q1310,225 1330,230 L1520,350 L1555,420 L1485,470 L1420,400 L1385,365 Q1365,350 1350,370 L1305,420 L1305,460 L1240,525 L1215,490 L1105,605 L1105,650 L905,810 L850,790 L855,760 L750,860 L690,865 L630,890 L630,925 L670,935 L670,960 L560,955 L520,990 Z" stroke-width="29.5"/><path d="M780,215 L830,255 M860,250 L1000,140" stroke-width="18.5"/><path d="M958,222 Q990,235 970,280 Q945,300 935,270 Q935,230 958,222 Z" stroke-width="18.5"/><path d="M630,285 L705,285 M660,268 L660,300 M607,372 L705,345 L690,322" stroke-width="18.5"/><path d="M290,665 L555,440 L700,400 L905,505 L785,605 L675,605 L690,650 L650,690 L645,780 L500,875" stroke-width="18.5"/><path d="M310,760 L500,870 M270,695 Q300,715 305,760 M320,760 L510,620 L760,440 M470,540 Q505,575 510,620" stroke-width="18.5"/><path d="M540,500 Q570,515 560,550 Q540,570 525,545 Q520,505 540,500 Z" stroke-width="18.5"/><path d="M150,735 L295,600 L325,620" stroke-width="18.5"/><path d="M440,910 L490,870 L550,940" stroke-width="18.5"/><path d="M1300,330 L1220,395 L1250,425 M1045,520 L965,585 L1000,615 M775,745 L700,810 L735,840" stroke-width="18.5"/><path d="M810,690 L865,640 L905,680 L850,725 Z" stroke-width="18.5"/><path d="M870,770 L1060,625 L1090,620 M1230,490 L1275,455 L1310,455 M1420,320 L1420,380 M1455,395 L1500,365" stroke-width="18.5"/></g>
<g transform="translate(295,400) scale(0.09375)" fill="none" stroke="#999999" stroke-linejoin="round" stroke-linecap="round"><path d="M60,600 L420,365 L430,385 L490,385 L490,365 L595,365 L595,390 L680,390 L680,490 L640,490 L640,520 L680,520 L680,595 L625,595 L590,630 L590,700 L545,740 L545,820 L575,840 L575,875 L480,875 L480,825 L450,825 L450,665 L365,790 Z" stroke-width="37.3"/><path d="M60,600 L580,440 L590,510 L480,640 L560,640 L600,600 M610,680 L650,630" stroke-width="23.5"/><path d="M545,760 Q620,680 700,610 Q800,525 1000,410 L1180,300" stroke-width="27.7"/><path d="M580,830 Q650,760 700,715 Q760,650 830,590 Q900,530 1000,475 L1200,360 Q1280,310 1330,295" stroke-width="27.7"/><path d="M545,810 Q650,720 700,670 Q800,575 1000,445 L1210,320" stroke-width="12.8"/><path d="M1180,300 L1180,245 L1300,140 L1355,140 L1355,100 L1465,100 L1465,250 L1405,300 L1320,290 L1215,328" stroke-width="37.3"/><path d="M1250,265 L1330,190" stroke-width="23.5"/></g>
<g transform="translate(250,740) scale(0.09375)" fill="none" stroke="#999999" stroke-linejoin="round" stroke-linecap="round"><path d="M75,320 L165,300 L280,360 L280,425 L255,490 L200,515 L75,455 Z" stroke-width="37.3"/><path d="M230,410 A30,30 0 1 0 231,410" stroke-width="23.5"/><path d="M255,430 Q380,495 500,540 Q680,600 830,590 Q980,580 1100,520 Q1220,455 1300,370 Q1390,270 1455,160" stroke-width="34.1"/><path d="M255,490 Q380,560 500,600 Q680,665 830,660 Q990,650 1100,600 Q1250,520 1350,420 Q1440,320 1510,190" stroke-width="34.1"/></g>
<g transform="translate(1205,835) scale(0.10000)" stroke="#999999" stroke-linejoin="round" stroke-linecap="round"><path d="M400,60 Q420,45 445,60 L580,150 Q605,170 580,190 L300,380 Q285,392 265,380 L130,300 Q105,280 130,262 Z" stroke-width="35.0" fill="#fff"/><path d="M575,580 L960,280 L1045,265 L1180,160 Q1195,150 1210,162 L1250,195 L1290,165 Q1310,155 1330,165 L1400,210 Q1420,230 1420,290 L1465,380 Q1470,400 1455,410 L1430,440 L1430,460 L1390,500 L1390,525 L1000,840 Q960,875 890,860 L580,690 Q540,660 550,620 Q555,600 575,580 Z" stroke-width="35.0" fill="#fff"/><path d="M585,600 L960,295 L1040,290 L1180,180 L1245,215" stroke-width="22.0" fill="none"/><path d="M1150,225 L1290,305 L1390,235 M1290,305 L1300,320" stroke-width="22.0" fill="none"/><path d="M1085,290 L1220,380" stroke-width="22.0" fill="none"/><path d="M640,585 Q640,620 700,650 L800,690 Q830,680 830,630 Q820,615 760,580 L720,550 Q680,560 640,585 Z M700,650 L770,590 M720,550 L830,625" stroke-width="22.0" fill="none"/><path d="M700,730 L720,690 M720,700 L820,720 L1300,330 L1360,320 L1395,400 L1385,460" stroke-width="22.0" fill="none"/><path d="M800,775 L1310,390 L1355,490" stroke-width="22.0" fill="none"/><path d="M975,800 L985,780 L1245,595 L1275,585" stroke-width="22.0" fill="none"/><path d="M1350,320 L1440,390" stroke-width="22.0" fill="none"/></g>
<g transform="translate(1385,730) scale(0.09609)" fill="none" stroke="#999999" stroke-linejoin="round" stroke-linecap="round"><path d="M1030,145 Q1060,120 1100,145 Q1115,165 1130,185 L1270,290 Q1300,270 1330,290 Q1360,320 1345,360 Q1335,375 1320,390 L700,880 L440,1145 Q420,1160 395,1145 L170,1010 L150,990 L105,870 Q100,840 130,820 Z" stroke-width="36.4"/><path d="M1075,185 Q1065,210 1080,225 L1165,310 Q1180,320 1210,305 L1260,290" stroke-width="22.9"/><path d="M1300,300 L375,975 Q355,990 365,1010 L425,1140" stroke-width="22.9"/><path d="M165,835 L200,875 L245,845 L225,795" stroke-width="22.9"/></g>
</svg>
<div class="banner">
<div style="left:310.4px;top:2.9px;transform:scaleX(1.082)">Part or sub-assembly is #4 in diagram</div>
<div style="left:235.4px;top:52.6px;transform:scaleX(1.0896)">Diagram may not be specific to your vehicle</div>
</div>
</body></html>
